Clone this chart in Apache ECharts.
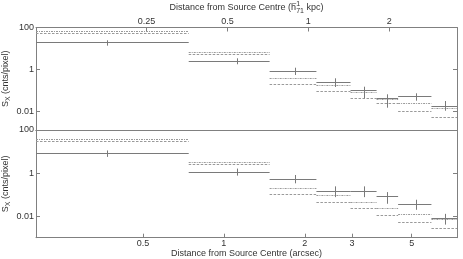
<!DOCTYPE html>
<html>
<head>
<meta charset="utf-8">
<script src="https://cdn.jsdelivr.net/npm/echarts@6/dist/echarts.min.js"></script>
<style>html,body{margin:0;padding:0;background:#fff}#c{width:463px;height:259px}</style>
</head>
<body>
<div id="c"></div>
<script>
// ---- data (x in arcsec) ----
const binLo  = [0.2, 0.74, 1.48, 2.21, 2.96, 3.7, 4.45, 5.92];
const binHi  = [0.74, 1.48, 2.21, 2.96, 3.7, 4.45, 5.92, 7.37];
const binMid = [0.368, 1.115, 1.847, 2.602, 3.323, 4.06, 5.17, 6.65];

// upper panel
const topSx    = [19.8, 2.65, 0.86, 0.249, 0.107, 0.046, 0.056, 0.0193];
const topErrLo = [13.7, 1.79, 0.554, 0.149, 0.0433, 0.0155, 0.0333, 0.0111];
const topErrHi = [24.7, 3.44, 1.23, 0.386, 0.154, 0.067, 0.0748, 0.0322];
const topModelA = [68, 7.1, 0.42, 0.185, 0.091, 0.04, 0.025, 0.0145];
const topModelB = [55, 5.7, 0.21, 0.096, 0.043, 0.025, 0.011, 0.0054];

// lower panel
const botSx    = [8.7, 1.126, 0.553, 0.146, 0.142, 0.0824, 0.0376, 0.008];
const botErrLo = [5.65, 0.764, 0.334, 0.0764, 0.0764, 0.0376, 0.0197, 0.00405];
const botErrHi = [11.25, 1.62, 0.815, 0.242, 0.242, 0.131, 0.0578, 0.0128];
const botModelA = [38, 3.3, 0.21, 0.092, 0.0446, 0.0244, 0.0128, 0.0075];
const botModelB = [31.6, 2.78, 0.11, 0.045, 0.0244, 0.0119, 0.0052, 0.0028];

// axes
const xMinArcsec = 0.2, xMaxArcsec = 7.37;
const kpcPerArcsec = 0.485;
const bottomTicks = [0.5, 1, 2, 3, 5];
const topTicks = [0.25, 0.5, 1, 2];
const yTicks = [0.01, 1, 100];

const FONT = "'Liberation Sans', Arial, Helvetica, sans-serif";
const TXT = '#333';
const AX = '#808080';
const SOLID = '#7a7a7a';
const DASH = '#9a9a9a';

function fmt(v){ return String(+(+v).toPrecision(4)); }

function solidItems(sx, lo, hi){
  return sx.map((v,i)=>[binLo[i], binHi[i], binMid[i], v, lo[i], hi[i]]);
}
function modelItems(m){
  return m.map((v,i)=>[binLo[i], binHi[i], v]);
}

function renderSolid(params, api){
  const a = api.coord([api.value(0), api.value(3)]);
  const b = api.coord([api.value(1), api.value(3)]);
  const t = api.coord([api.value(2), api.value(5)]);
  const d = api.coord([api.value(2), api.value(4)]);
  const st = {stroke: SOLID, lineWidth: 1};
  const ya = Math.round(a[1]) + 0.5, xm = Math.round(t[0]) + 0.5;
  return {type:'group', children:[
    {type:'line', shape:{x1:a[0], y1:ya, x2:b[0], y2:ya}, style:st},
    {type:'line', shape:{x1:xm, y1:t[1], x2:xm, y2:d[1]}, style:st}
  ]};
}
function makeModelRender(dash){
  return function(params, api){
    const a = api.coord([api.value(0), api.value(2)]);
    const b = api.coord([api.value(1), api.value(2)]);
    const y = Math.round(a[1]) + 0.5;
    return {type:'line', shape:{x1:a[0], y1:y, x2:b[0], y2:y},
      style:{stroke: DASH, lineWidth: 1, lineDash: dash}};
  };
}

const yName = {
  rich: {
    a: {fontSize: 9, fontFamily: FONT, color: TXT},
    s: {fontSize: 7, fontFamily: FONT, color: TXT, padding: [5,0,0,0]}
  }
};

function yAxisLeft(grid, min){
  return {
    type: 'log', gridIndex: grid, min: min, max: 100, position: 'left',
    name: '{a|S}{s|X}{a| (cnts/pixel)}', nameLocation: 'middle', nameRotate: 90, nameGap: 24,
    nameMoveOverlap: false,
    nameTextStyle: yName,
    axisLine: {show: true, lineStyle: {color: AX, width: 1}},
    axisTick: {show: true, inside: true, length: 4, customValues: yTicks, lineStyle: {color: AX}},
    axisLabel: {show: true, margin: 2, customValues: yTicks, formatter: fmt, fontSize: 9, fontFamily: FONT, color: TXT},
    splitLine: {show: false}, minorTick: {show: false}
  };
}
function yAxisRight(grid, min){
  return {
    type: 'log', gridIndex: grid, min: min, max: 100, position: 'right',
    axisLine: {show: true, lineStyle: {color: AX, width: 1}},
    axisTick: {show: true, inside: true, length: 4, customValues: yTicks, lineStyle: {color: AX}},
    axisLabel: {show: false},
    splitLine: {show: false}
  };
}

const option = {
  animation: false,
  backgroundColor: '#fff',
  grid: [
    {left: 36, right: 6, top: 27.5, height: 102.5, containLabel: false, outerBoundsMode: 'none'},
    {left: 36, right: 6, top: 130, height: 107.7, containLabel: false, outerBoundsMode: 'none'}
  ],
  xAxis: [
    { // top panel, arcsec (data axis), bottom edge line only
      type: 'log', gridIndex: 0, min: xMinArcsec, max: xMaxArcsec, position: 'bottom',
      axisLine: {show: true, lineStyle: {color: AX, width: 1}},
      axisTick: {show: false}, axisLabel: {show: false}, splitLine: {show: false}
    },
    { // top panel, kpc axis on top
      type: 'log', gridIndex: 0, min: xMinArcsec * kpcPerArcsec, max: xMaxArcsec * kpcPerArcsec, position: 'top',
      name: '{a|Distance from Source Centre (h}{p|\u22121}{b|71}{a| kpc)}',
      nameLocation: 'middle', nameGap: 12, nameMoveOverlap: false,
      nameTextStyle: {rich: {
        a: {fontSize: 9, fontFamily: FONT, color: TXT, lineHeight: 16},
        p: {fontSize: 7, fontFamily: FONT, color: TXT, width: 0.1, padding: [0,0,7,0]},
        b: {fontSize: 7, fontFamily: FONT, color: TXT, padding: [7,0,0,0]}
      }},
      axisLine: {show: true, lineStyle: {color: AX, width: 1}},
      axisTick: {show: true, inside: true, length: 4, customValues: topTicks, lineStyle: {color: AX}},
      axisLabel: {show: true, margin: 1, customValues: topTicks, formatter: fmt, fontSize: 9, fontFamily: FONT, color: TXT},
      splitLine: {show: false}
    },
    { // lower panel, arcsec bottom
      type: 'log', gridIndex: 1, min: xMinArcsec, max: xMaxArcsec, position: 'bottom',
      name: 'Distance from Source Centre (arcsec)', nameLocation: 'middle', nameGap: 9,
      nameTextStyle: {fontSize: 9, fontFamily: FONT, color: TXT},
      axisLine: {show: true, lineStyle: {color: AX, width: 1}},
      axisTick: {show: true, inside: true, length: 4, customValues: bottomTicks, lineStyle: {color: AX}},
      axisLabel: {show: true, margin: 1, customValues: bottomTicks, formatter: fmt, fontSize: 9, fontFamily: FONT, color: TXT},
      splitLine: {show: false}
    },
    { // lower panel top edge
      type: 'log', gridIndex: 1, min: xMinArcsec, max: xMaxArcsec, position: 'top',
      axisLine: {show: true, lineStyle: {color: AX, width: 1}},
      axisTick: {show: false}, axisLabel: {show: false}, splitLine: {show: false}
    }
  ],
  yAxis: [
    yAxisLeft(0, 0.00135),
    yAxisRight(0, 0.00135),
    yAxisLeft(1, 0.001),
    yAxisRight(1, 0.001)
  ],
  series: [
    {type:'custom', xAxisIndex:0, yAxisIndex:0, clip:true, renderItem: makeModelRender([2,1,1,1]),
      encode:{x:[0,1], y:[2]}, data: modelItems(topModelA)},
    {type:'custom', xAxisIndex:0, yAxisIndex:0, clip:true, renderItem: makeModelRender([2.5,1.5]),
      encode:{x:[0,1], y:[2]}, data: modelItems(topModelB)},
    {type:'custom', xAxisIndex:0, yAxisIndex:0, clip:true, renderItem: renderSolid,
      encode:{x:[0,1,2], y:[3,4,5]}, data: solidItems(topSx, topErrLo, topErrHi)},
    {type:'custom', xAxisIndex:2, yAxisIndex:2, clip:true, renderItem: makeModelRender([2,1,1,1]),
      encode:{x:[0,1], y:[2]}, data: modelItems(botModelA)},
    {type:'custom', xAxisIndex:2, yAxisIndex:2, clip:true, renderItem: makeModelRender([2.5,1.5]),
      encode:{x:[0,1], y:[2]}, data: modelItems(botModelB)},
    {type:'custom', xAxisIndex:2, yAxisIndex:2, clip:true, renderItem: renderSolid,
      encode:{x:[0,1,2], y:[3,4,5]}, data: solidItems(botSx, botErrLo, botErrHi)}
  ]
};

const chart = echarts.init(document.getElementById('c'), null, {renderer: 'canvas'});
chart.setOption(option);
</script>
</body>
</html>
